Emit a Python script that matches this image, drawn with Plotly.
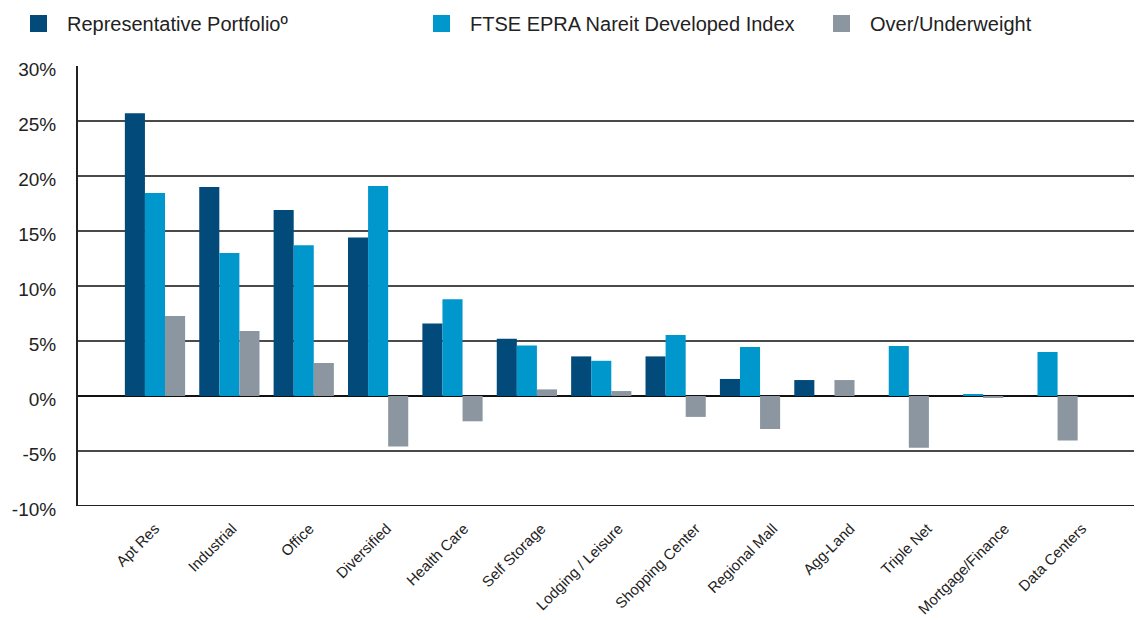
import plotly.graph_objects as go

categories = ["Apt Res", "Industrial", "Office", "Diversified", "Health Care",
              "Self Storage", "Lodging / Leisure", "Shopping Center", "Regional Mall",
              "Agg-Land", "Triple Net", "Mortgage/Finance", "Data Centers"]
portfolio = [25.7, 19.0, 16.9, 14.4, 6.6, 5.2, 3.6, 3.6, 1.55, 1.45, 0.0, 0.0, 0.0]
index_wt = [18.45, 13.0, 13.7, 19.1, 8.8, 4.6, 3.2, 5.55, 4.45, 0.0, 4.55, 0.1, 4.0]
over_under = [7.27, 5.9, 3.0, -4.6, -2.3, 0.6, 0.45, -1.9, -3.0, 1.45, -4.7, -0.15, -4.05]
y_ticks = [-10, -5, 0, 5, 10, 15, 20, 25, 30]
y_ticklabels = ["-10%", "-5%", "0%", "5%", "10%", "15%", "20%", "25%", "30%"]

names = ["Representative Portfolio\u00ba", "FTSE EPRA Nareit Developed Index", "Over/Underweight"]
colors = ["#024A7A", "#0097CC", "#8C96A1"]

# page has an 8px body margin; figure sized so it ends at the window edge
OFF = 8
W, H = 1142 - OFF, 620 - OFF
L, R, T, B = 78 - OFF, 0, 66 - OFF, 114
pw, ph = W - L - R, H - T - B

fig = go.Figure()
for name, vals, col in zip(names, [portfolio, index_wt, over_under], colors):
    fig.add_trace(go.Bar(x=categories, y=vals, name=name, marker_color=col,
                         marker_line_width=0, showlegend=False))
# carrier for the category label axis (labels are spaced a little wider than the bars)
fig.add_trace(go.Scatter(x=categories, y=[None] * len(categories), xaxis="x2",
                         mode="markers", showlegend=False, hoverinfo="skip"))

font_family = "Liberation Sans, Arial, sans-serif"
fig.update_layout(
    width=W, height=H,
    margin=dict(l=L, r=R, t=T, b=B, autoexpand=False),
    paper_bgcolor="white", plot_bgcolor="white",
    barmode="group", bargap=0.19, bargroupgap=0,
    font=dict(family=font_family, color="#222222"),
    showlegend=False,
    xaxis2=dict(overlaying="x", side="bottom", type="category",
                categoryorder="array", categoryarray=categories,
                range=[-0.997, 12.777], showgrid=False, zeroline=False,
                showline=False, ticks="", tickangle=-45,
                tickfont=dict(size=15, color="#222222"),
                ticklabelstandoff=10, automargin=False),
)

def px(xpage):
    return (xpage - OFF - L) / pw

def py(ypage):
    return (H - B - (ypage - OFF)) / ph

legend_x = [30, 433, 833]
for name, col, x0 in zip(names, colors, legend_x):
    fig.add_shape(type="rect", xref="paper", yref="paper",
                  x0=px(x0), x1=px(x0 + 17), y0=py(32), y1=py(15),
                  fillcolor=col, line_width=0)
    fig.add_annotation(xref="paper", yref="paper", x=px(x0 + 35), y=py(24),
                       xanchor="left", yanchor="middle", showarrow=False,
                       text=name, font=dict(size=20, color="#222222"))

fig.update_xaxes(selector=dict(anchor="y"), range=[-1.035, 13.27])
fig.layout.xaxis.update(range=[-1.035, 13.27], showgrid=False, showticklabels=False,
                        ticks="", showline=False, zeroline=False, automargin=False)
fig.update_yaxes(range=[-10, 30], tickvals=y_ticks, ticktext=y_ticklabels,
                 showgrid=True, gridcolor="#4a4a4a", gridwidth=1.5,
                 zeroline=True, zerolinecolor="#111111", zerolinewidth=2,
                 showline=True, linecolor="#222222", linewidth=2, mirror=False,
                 ticks="outside", ticklen=16, tickcolor="rgba(0,0,0,0)",
                 ticklabelshift=3,
                 tickfont=dict(size=19, color="#222222"), automargin=False)
fig.add_shape(type="line", xref="paper", yref="y", x0=0, x1=1, y0=-10, y1=-10,
              line=dict(color="#222222", width=2))
fig.write_html("out.html")
